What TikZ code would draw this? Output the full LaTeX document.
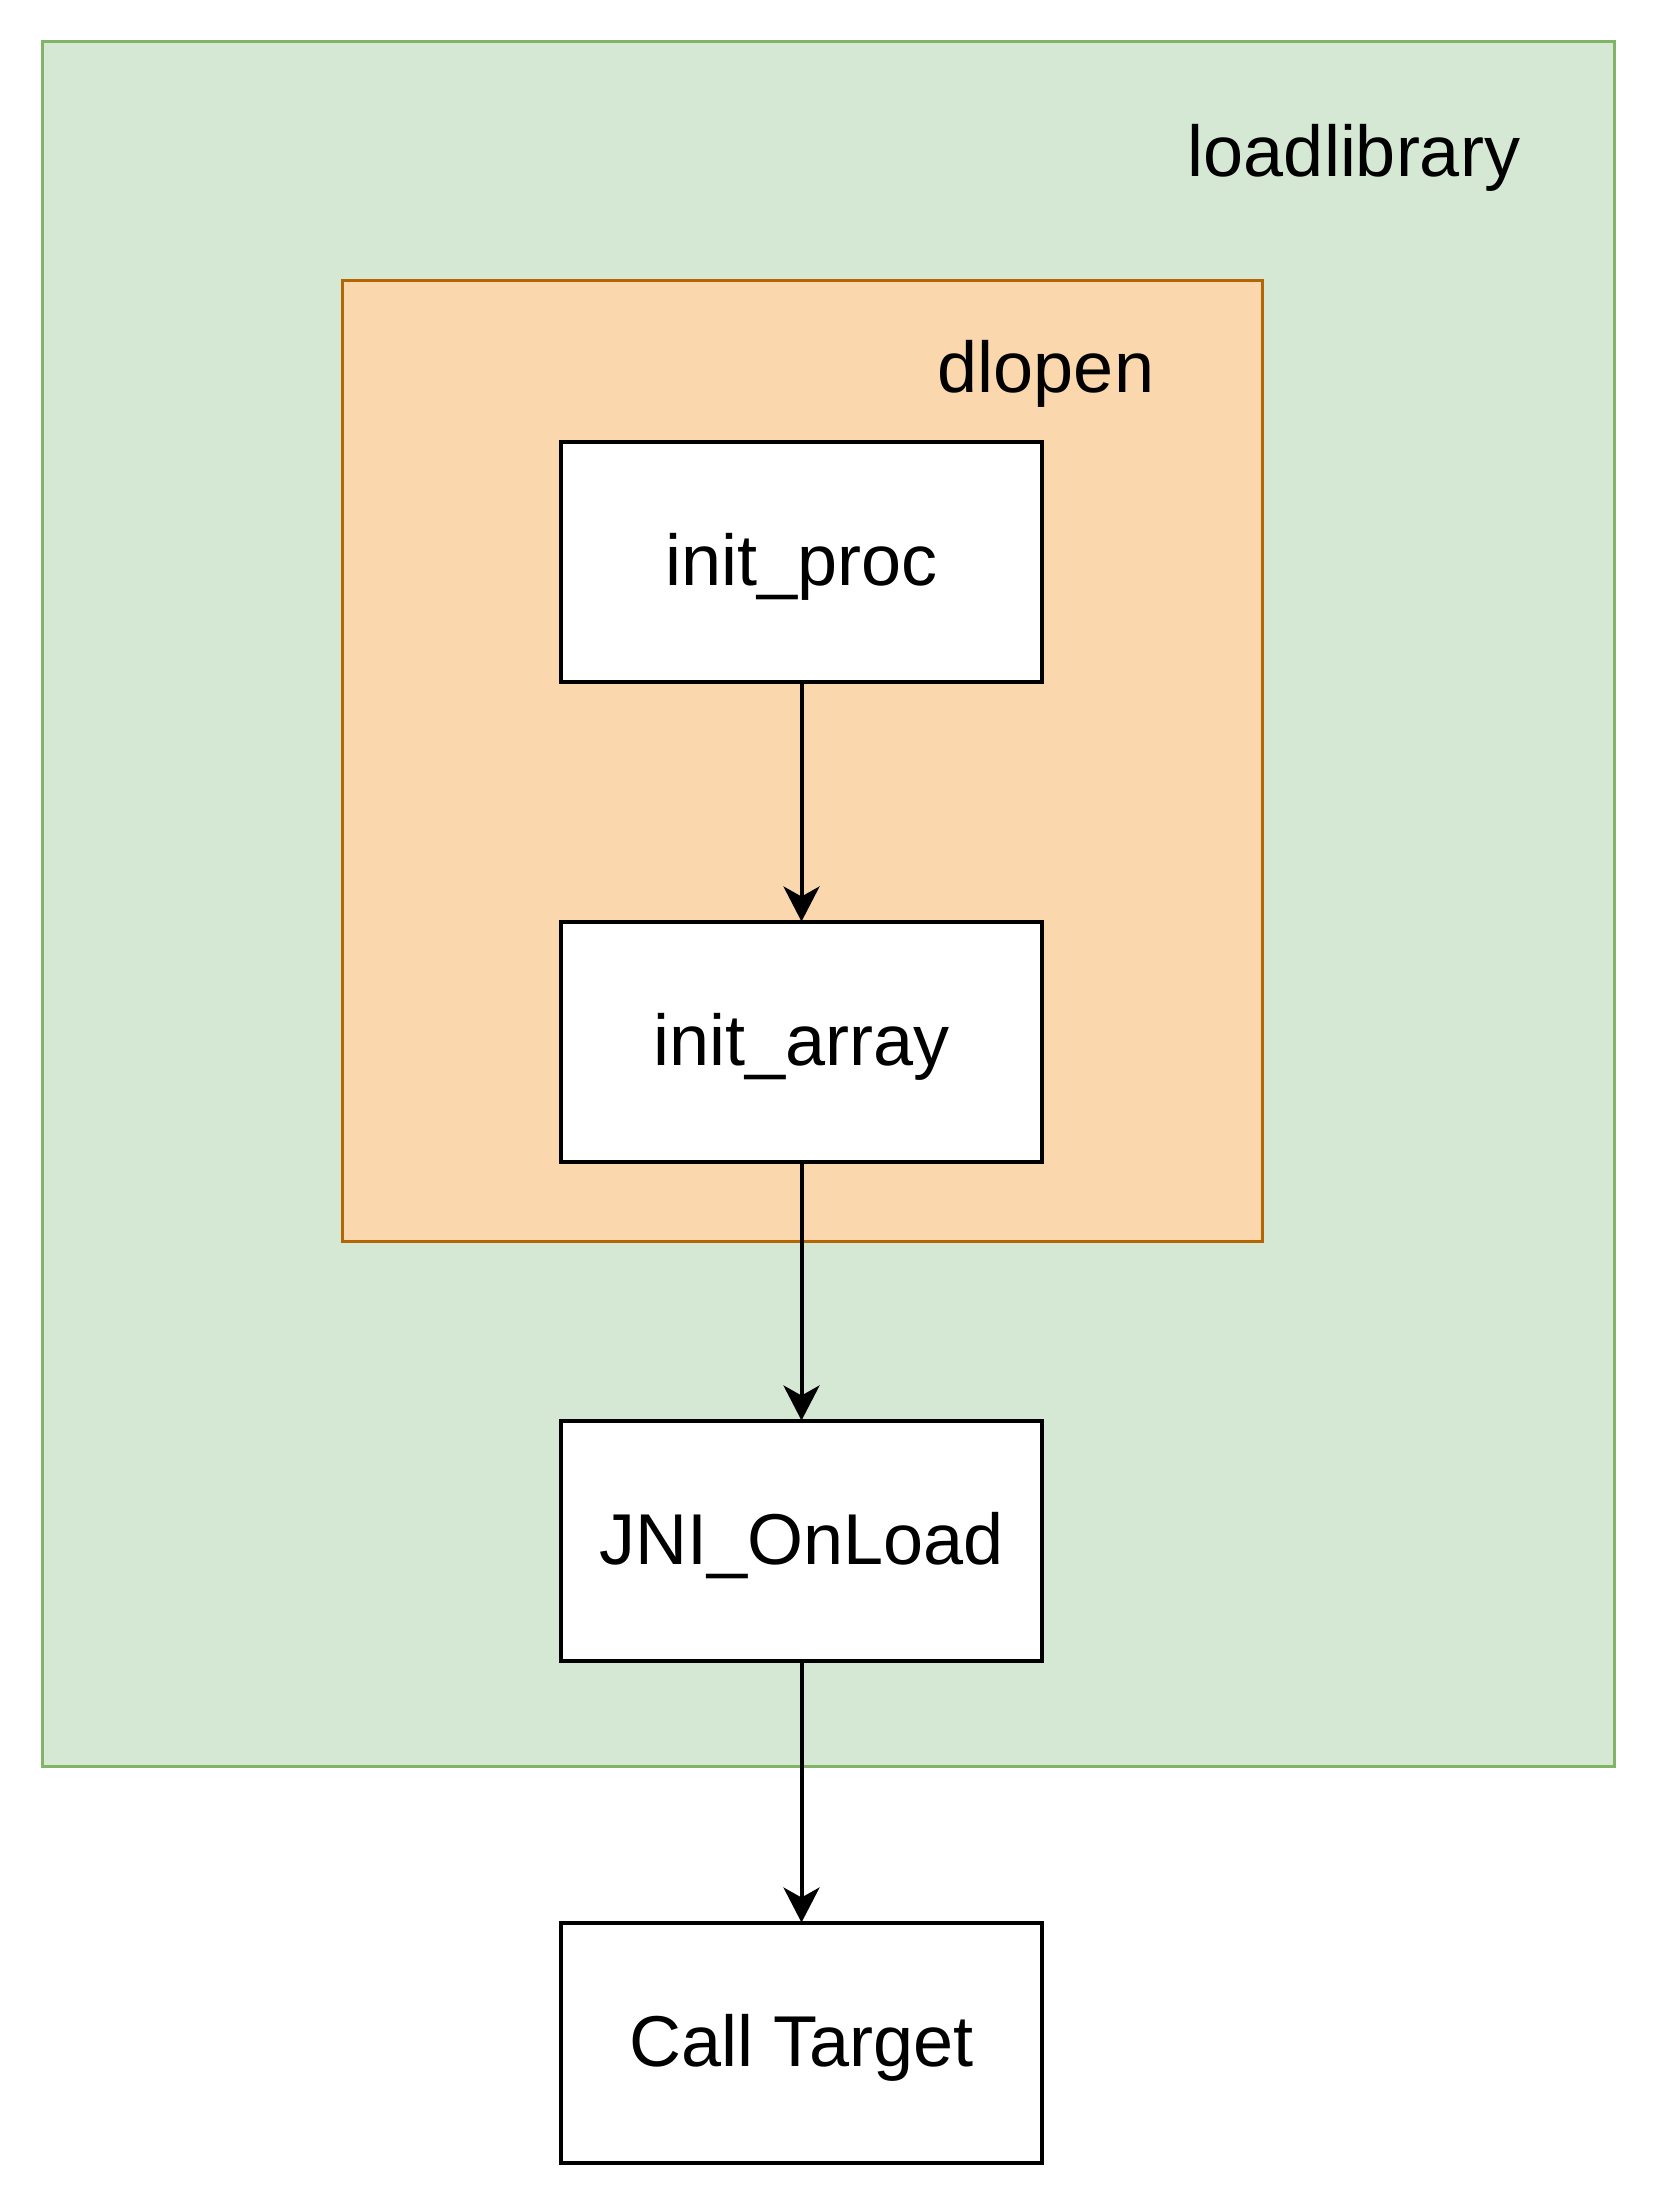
\documentclass[tikz,border=0pt]{standalone}
\usepackage{fontspec}
\setmainfont{Liberation Sans}
\usetikzlibrary{
  arrows.meta,
  positioning
}
\definecolor{libGreen}{HTML}{D5E8D4}
\definecolor{libGreenLine}{HTML}{82B366}
\definecolor{dlOrange}{HTML}{FAD7AC}
\definecolor{dlOrangeLine}{HTML}{B46504}
\tikzset{
  bigfont/.style={font=\fontsize{36}{43}\selectfont},
  stagebox/.style={
    draw, fill=white, line width=2pt, minimum width=240.5pt, minimum height=120pt,
    outer sep=0pt, bigfont, text height=24pt, text depth=0pt
  },
  libzone/.style={draw=libGreenLine, fill=libGreen, line width=1.5pt, outer sep=0pt},
  dlzone/.style={draw=dlOrangeLine, fill=dlOrange, line width=1.5pt, outer sep=0pt},
  zonelabel/.style={bigfont, anchor=base, inner sep=0pt},
  callflow/.style={-{Stealth[length=17.5pt, width=18pt, inset=5pt]}, line width=2pt}
}
\begin{document}
\begin{tikzpicture}[x=0.5pt, y=-0.5pt]
  \useasboundingbox (0,0) rectangle (1656,2204);
  % containers
  \node[libzone, minimum width=786pt, minimum height=862pt] (loadlib) at (828,904) {};
  \node[zonelabel] (loadlibtxt) at (1354,177) {loadlibrary};
  \node[dlzone, minimum width=460pt, minimum height=480pt] (dlopen) at (802,761) {};
  \node[zonelabel] (dlopentxt) at (1046,393) {dlopen};
  % call chain
  \node[stagebox] (initproc) at (801.5,561.5) {init\_proc};
  \node[stagebox, below=120pt of initproc] (initarray) {init\_array};
  \node[stagebox, below=129.5pt of initarray] (jni) {JNI\_OnLoad};
  \node[stagebox, below=131pt of jni] (target) {Call Target};
  \foreach \s/\e in {initproc/initarray, initarray/jni, jni/target}{\draw[callflow] (\s) -- (\e);}
\end{tikzpicture}
\end{document}
